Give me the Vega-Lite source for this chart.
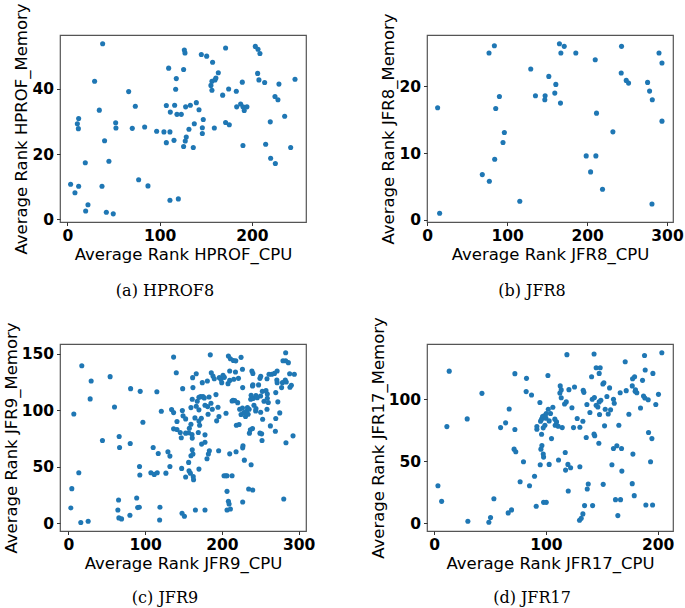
{
 "$schema": "https://vega.github.io/schema/vega-lite/v6.json",
 "background": "white",
 "padding": {"left": 2, "top": 2, "right": 2, "bottom": 2},
 "config": {
  "view": {"stroke": "#555555", "strokeWidth": 1.2},
  "axis": {"domain": false, "grid": false, "ticks": true, "tickSize": 3.5, "tickColor": "#333333", "tickWidth": 1,
   "labelFont": "DejaVu Sans", "labelFontSize": 15.5, "labelFontWeight": "bold", "labelColor": "black", "labelPadding": 3, "labelFlush": false, "labelOverlap": false, "labelBound": false,
   "titleFont": "DejaVu Sans", "titleFontSize": 16.5, "titleFontWeight": "normal", "titleColor": "black", "titlePadding": 2},
  "title": {"font": "DejaVu Serif", "fontSize": 16, "fontWeight": "normal", "color": "black", "anchor": "middle"},
  "circle": {"size": 26, "opacity": 1, "color": "#1f77b4"}
 },
 "datasets": {
  "a": [
   {"x":38.3,"y":53.9},{"x":29.6,"y":42.4},{"x":34.7,"y":33.5},{"x":12.3,"y":30.9},{"x":10.9,"y":29.3},{"x":12,"y":27.8},{"x":40.4,"y":24.1},{"x":19.5,"y":17.3},{"x":45.1,"y":17.8},{"x":3.6,"y":10.7},{"x":8.3,"y":8.1},{"x":12.3,"y":10.1},{"x":37.6,"y":10.1},{"x":22.4,"y":4.4},{"x":19.9,"y":2.5},{"x":42.3,"y":2.1},{"x":49.8,"y":1.6},{"x":66.5,"y":39.2},{"x":52.4,"y":29.6},{"x":52.7,"y":28.0},{"x":70.4,"y":27.9},{"x":73.7,"y":34.7},{"x":83.8,"y":28.3},{"x":77.3,"y":12.1},{"x":87.4,"y":10.2},{"x":96.8,"y":27.0},{"x":104.7,"y":26.8},{"x":111.2,"y":26.8},{"x":107.3,"y":34.9},{"x":109.8,"y":46.4},{"x":111.6,"y":32.9},{"x":107.3,"y":23.5},{"x":111.2,"y":5.8},{"x":120.3,"y":6.2},{"x":115.6,"y":24.2},{"x":116.3,"y":35.0},{"x":117.4,"y":39.9},{"x":118.1,"y":43.2},{"x":118.8,"y":32.2},{"x":123.5,"y":32.2},{"x":126,"y":46.0},{"x":126.8,"y":52.0},{"x":127.5,"y":51.1},{"x":128.2,"y":34.5},{"x":128.9,"y":25.2},{"x":127.8,"y":24.0},{"x":126,"y":22.3},{"x":133.3,"y":35.0},{"x":131.8,"y":27.6},{"x":137.6,"y":29.3},{"x":136.5,"y":22.0},{"x":139.8,"y":35.8},{"x":142.7,"y":33.6},{"x":145.2,"y":50.6},{"x":147.3,"y":30.6},{"x":146.3,"y":28.1},{"x":146.3,"y":26.3},{"x":151,"y":50.1},{"x":157.4,"y":48.2},{"x":156.7,"y":42.4},{"x":155.6,"y":41.1},{"x":156.7,"y":39.6},{"x":160,"y":42.8},{"x":161,"y":43.4},{"x":163.6,"y":45.0},{"x":159.3,"y":28.0},{"x":168.3,"y":38.1},{"x":171.5,"y":52.6},{"x":171.5,"y":29.7},{"x":174.8,"y":40.0},{"x":175.5,"y":29.0},{"x":183.1,"y":39.3},{"x":183.5,"y":34.5},{"x":187.8,"y":35.4},{"x":189.6,"y":42.1},{"x":190.3,"y":34.5},{"x":191.7,"y":33.4},{"x":194.6,"y":34.5},{"x":190.3,"y":22.6},{"x":203.7,"y":53.1},{"x":206.6,"y":52.2},{"x":208.7,"y":50.9},{"x":206.2,"y":44.8},{"x":207.6,"y":42.8},{"x":213.8,"y":42.0},{"x":214.9,"y":23.0},{"x":219.9,"y":29.9},{"x":220.3,"y":18.7},{"x":225.4,"y":17.1},{"x":225,"y":37.7},{"x":228.2,"y":36.7},{"x":229.3,"y":41.5},{"x":235.5,"y":31.6},{"x":242,"y":22.0},{"x":246.7,"y":43.0}
  ],
  "b": [
   {"x":13,"y":16.8},{"x":15.5,"y":1.0},{"x":77.3,"y":25.0},{"x":84,"y":26.1},{"x":90.3,"y":18.5},{"x":85.7,"y":16.7},{"x":96.5,"y":13.1},{"x":94.8,"y":11.6},{"x":84.4,"y":9.1},{"x":68.9,"y":6.8},{"x":77.7,"y":5.8},{"x":115.8,"y":2.8},{"x":129.5,"y":22.6},{"x":135.4,"y":18.6},{"x":147.5,"y":18.6},{"x":147.1,"y":18.0},{"x":152.1,"y":21.5},{"x":160.9,"y":20.3},{"x":159.6,"y":19.0},{"x":166.7,"y":17.5},{"x":165.4,"y":26.4},{"x":171.4,"y":26.0},{"x":167.2,"y":25.0},{"x":185.9,"y":25.0},{"x":210.2,"y":24.0},{"x":198.9,"y":9.6},{"x":211,"y":9.6},{"x":204.4,"y":7.2},{"x":211.8,"y":16.0},{"x":219.3,"y":4.6},{"x":232.3,"y":13.2},{"x":243.1,"y":26.0},{"x":242.7,"y":22.0},{"x":249,"y":20.9},{"x":251.9,"y":20.5},{"x":275.7,"y":20.6},{"x":278.2,"y":19.3},{"x":281.6,"y":18.0},{"x":281.2,"y":2.4},{"x":290,"y":25.0},{"x":293.7,"y":23.5},{"x":293.7,"y":14.8}
  ],
  "c": [
   {"x":17.4,"y":139.4},{"x":29.6,"y":125.8},{"x":28.3,"y":110},{"x":7,"y":96.7},{"x":54.3,"y":129.7},{"x":60,"y":102.9},{"x":81,"y":119.1},{"x":93.5,"y":116.7},{"x":115.2,"y":116.4},{"x":121,"y":99.1},{"x":97,"y":89.4},{"x":44.3,"y":73.2},{"x":66.1,"y":76.7},{"x":66.6,"y":67},{"x":80.5,"y":70.6},{"x":110.4,"y":67},{"x":117,"y":61.7},{"x":13.5,"y":44.6},{"x":92.6,"y":50.2},{"x":93,"y":42.6},{"x":107.4,"y":44.6},{"x":111.8,"y":43.2},{"x":115.7,"y":44.6},{"x":127,"y":44.3},{"x":132.2,"y":50.2},{"x":132.2,"y":59.4},{"x":129.6,"y":63.2},{"x":4.4,"y":30.6},{"x":3.1,"y":13.5},{"x":16.1,"y":0.6},{"x":25.7,"y":1.7},{"x":65.3,"y":20.5},{"x":64.4,"y":11.7},{"x":65.7,"y":4.7},{"x":69.2,"y":3.8},{"x":80.1,"y":7},{"x":88.9,"y":22.3},{"x":90.2,"y":13.8},{"x":92.3,"y":14.1},{"x":119.2,"y":14.1},{"x":118.8,"y":2.9},{"x":148,"y":8.8},{"x":151.1,"y":6.1},{"x":165.4,"y":11.7},{"x":137,"y":147},{"x":140.5,"y":133.2},{"x":148.8,"y":119.1},{"x":134.4,"y":100.6},{"x":137,"y":97.9},{"x":141.4,"y":90},{"x":137,"y":83.5},{"x":141.4,"y":82.9},{"x":148.4,"y":99.7},{"x":149.3,"y":95},{"x":152.7,"y":92.3},{"x":145.7,"y":80.3},{"x":147,"y":75.6},{"x":152.7,"y":79.7},{"x":147.5,"y":48.5},{"x":152.7,"y":40.9},{"x":157.1,"y":46.4},{"x":158.8,"y":44.3},{"x":156.6,"y":53.8},{"x":159.6,"y":59.7},{"x":161.3,"y":65},{"x":162.2,"y":61.2},{"x":162.6,"y":41.2},{"x":163,"y":38.5},{"x":157.5,"y":84.1},{"x":156.6,"y":80},{"x":161,"y":78.5},{"x":161.3,"y":75.3},{"x":159.6,"y":87.6},{"x":159.6,"y":102.3},{"x":161.3,"y":109.7},{"x":162.2,"y":120},{"x":161.8,"y":128.8},{"x":166.5,"y":132.3},{"x":164.8,"y":93.2},{"x":166.5,"y":103.5},{"x":167.8,"y":107.9},{"x":170,"y":111.4},{"x":172.2,"y":112},{"x":170,"y":100.3},{"x":170,"y":90.5},{"x":170.9,"y":86.7},{"x":173.1,"y":92.9},{"x":169.2,"y":80.3},{"x":170,"y":47.9},{"x":174.4,"y":124.4},{"x":175.3,"y":112},{"x":177,"y":110.9},{"x":177.9,"y":104.4},{"x":177.9,"y":78.2},{"x":173.5,"y":70},{"x":177.9,"y":71.7},{"x":177.9,"y":11.7},{"x":181,"y":125.8},{"x":183.2,"y":111.7},{"x":181.4,"y":103.2},{"x":181.9,"y":96.4},{"x":184.8,"y":149},{"x":185.7,"y":106.1},{"x":187.4,"y":100.8},{"x":186.1,"y":133.2},{"x":188.3,"y":130.3},{"x":190,"y":127.9},{"x":192.2,"y":113.8},{"x":194.8,"y":102.6},{"x":183.6,"y":64.1},{"x":182.3,"y":61.2},{"x":180.5,"y":57},{"x":193.1,"y":90.6},{"x":196.1,"y":94.4},{"x":195.7,"y":64.1},{"x":196.6,"y":128.8},{"x":198.7,"y":127.4},{"x":203.1,"y":129.1},{"x":201.4,"y":130.9},{"x":199.7,"y":124.4},{"x":205.3,"y":97.3},{"x":207.9,"y":123.5},{"x":208.4,"y":147.9},{"x":211,"y":145.6},{"x":210.1,"y":134.7},{"x":210.1,"y":126.4},{"x":213.2,"y":108.2},{"x":214.5,"y":108.8},{"x":214.9,"y":144},{"x":217.6,"y":133.8},{"x":218,"y":143.7},{"x":216.6,"y":108.5},{"x":215.4,"y":127.4},{"x":206.6,"y":42},{"x":204.9,"y":42},{"x":202.7,"y":42},{"x":213.2,"y":42},{"x":210.1,"y":61.4},{"x":206.6,"y":28.2},{"x":208.4,"y":19.4},{"x":206.6,"y":11.7},{"x":211,"y":12.6},{"x":209.3,"y":17},{"x":224.9,"y":146.8},{"x":226.7,"y":136.2},{"x":221.5,"y":128.2},{"x":227,"y":120},{"x":220.5,"y":106.7},{"x":218.8,"y":86.7},{"x":222.3,"y":87.3},{"x":218.4,"y":63.2},{"x":227,"y":18.8},{"x":229.2,"y":55.8},{"x":227.4,"y":68.5},{"x":227,"y":66.7},{"x":223.1,"y":100.8},{"x":224.9,"y":96.2},{"x":226.7,"y":102},{"x":228.5,"y":97.9},{"x":230.7,"y":94.4},{"x":232,"y":99.1},{"x":234.1,"y":96.4},{"x":233.2,"y":102.3},{"x":235.4,"y":100.8},{"x":237.5,"y":109.7},{"x":238,"y":113.2},{"x":239.8,"y":121.5},{"x":239,"y":134.7},{"x":240.3,"y":132.6},{"x":237,"y":82.6},{"x":239.8,"y":83.8},{"x":235.8,"y":79.7},{"x":241,"y":110.5},{"x":241.7,"y":104.4},{"x":243.9,"y":99.4},{"x":244.3,"y":101.4},{"x":244.3,"y":112.9},{"x":240.3,"y":122.4},{"x":247.7,"y":122.4},{"x":249.5,"y":128.2},{"x":250.5,"y":130},{"x":246,"y":111.1},{"x":252.6,"y":116.7},{"x":254.8,"y":107.9},{"x":250.4,"y":98.2},{"x":253,"y":92},{"x":249.5,"y":79.7},{"x":251.7,"y":79.1},{"x":252.2,"y":73.2},{"x":234.8,"y":30.3},{"x":240.1,"y":29.4},{"x":238,"y":51.7},{"x":250.4,"y":112.6},{"x":257.4,"y":117.3},{"x":258.7,"y":127.9},{"x":261.3,"y":131.8},{"x":259.1,"y":114.4},{"x":259.1,"y":110.6},{"x":260.4,"y":106.8},{"x":258.7,"y":100.8},{"x":264.9,"y":131.8},{"x":268.4,"y":132.6},{"x":271.9,"y":134.7},{"x":271.5,"y":126.8},{"x":271.9,"y":124.4},{"x":270.1,"y":115.6},{"x":272.8,"y":107.4},{"x":275.3,"y":97.6},{"x":270.1,"y":92.6},{"x":263.1,"y":86.1},{"x":269.6,"y":81.4},{"x":277.7,"y":120},{"x":279.5,"y":143.8},{"x":283,"y":150.9},{"x":283,"y":143.8},{"x":286.5,"y":142.1},{"x":282.5,"y":126.8},{"x":283.8,"y":125},{"x":288.2,"y":132.3},{"x":290.4,"y":122.1},{"x":288.6,"y":120.3},{"x":294.3,"y":131.8},{"x":292.6,"y":77.3},{"x":283.4,"y":71.2},{"x":280.5,"y":21.4},{"x":278.8,"y":124.4}
  ],
  "d": [
   {"x":3.3,"y":30.2},{"x":6.6,"y":17.6},{"x":11.3,"y":77.9},{"x":13.4,"y":122.6},{"x":29.5,"y":84.1},{"x":30.1,"y":1.6},{"x":42.7,"y":104.7},{"x":48.9,"y":0.8},{"x":50.4,"y":4.5},{"x":53.4,"y":19.7},{"x":59.4,"y":77.1},{"x":63.9,"y":80.9},{"x":67.1,"y":92.1},{"x":66.2,"y":8.3},{"x":69.2,"y":10.7},{"x":72.2,"y":120.6},{"x":72.2,"y":75.5},{"x":71.5,"y":59.7},{"x":73,"y":57.6},{"x":76.9,"y":33.4},{"x":79.9,"y":49.5},{"x":82.6,"y":116.8},{"x":82.3,"y":106.1},{"x":87.1,"y":103.4},{"x":85.3,"y":30.2},{"x":89.8,"y":37.8},{"x":91.3,"y":13.7},{"x":91.9,"y":75.8},{"x":91.9,"y":77.9},{"x":94.6,"y":97.3},{"x":95.2,"y":82.3},{"x":96.1,"y":83.9},{"x":96.1,"y":71.7},{"x":96.4,"y":62.6},{"x":95.5,"y":59.7},{"x":94.9,"y":47.1},{"x":97.6,"y":55.7},{"x":97.9,"y":53.3},{"x":97,"y":86},{"x":98.4,"y":86.5},{"x":100,"y":84.7},{"x":99.1,"y":79},{"x":97.6,"y":76.9},{"x":97.9,"y":16.8},{"x":100.3,"y":16.8},{"x":100.3,"y":88.4},{"x":102.1,"y":91.9},{"x":101.8,"y":119.1},{"x":102.9,"y":82.5},{"x":104.1,"y":88.4},{"x":106.2,"y":93.5},{"x":105,"y":68.2},{"x":102.9,"y":47.4},{"x":108,"y":83.9},{"x":109.5,"y":81.7},{"x":108.3,"y":79},{"x":111.3,"y":51},{"x":111,"y":78.2},{"x":112.8,"y":110.7},{"x":113.7,"y":107.5},{"x":112.5,"y":104.9},{"x":113.7,"y":101.1},{"x":114.6,"y":77.1},{"x":116.7,"y":96.1},{"x":117.3,"y":57},{"x":117.6,"y":42.8},{"x":118.8,"y":135.9},{"x":118.2,"y":97.8},{"x":119.7,"y":47.4},{"x":120.6,"y":107.7},{"x":120,"y":26},{"x":122.1,"y":44.7},{"x":123.3,"y":93.1},{"x":124.7,"y":77.1},{"x":125.6,"y":109.8},{"x":128,"y":84.4},{"x":130.4,"y":77.4},{"x":130.4,"y":45.5},{"x":130.1,"y":2.4},{"x":131.6,"y":4},{"x":133.1,"y":7.5},{"x":133.1,"y":82.2},{"x":133.4,"y":107.2},{"x":134,"y":105.5},{"x":134.6,"y":14.2},{"x":136.1,"y":69.1},{"x":137,"y":27.6},{"x":137.9,"y":31.6},{"x":136.7,"y":95.7},{"x":139.4,"y":89.2},{"x":140.9,"y":118.1},{"x":141.5,"y":99.9},{"x":141.8,"y":14.2},{"x":143.1,"y":136.4},{"x":143.4,"y":101.3},{"x":143.1,"y":71.8},{"x":143.7,"y":70.5},{"x":145,"y":125.4},{"x":145,"y":95.1},{"x":148.6,"y":125.4},{"x":147.7,"y":120.8},{"x":147.7,"y":97.8},{"x":146.5,"y":93.7},{"x":149.2,"y":99.1},{"x":148,"y":87.6},{"x":147.4,"y":64.5},{"x":151,"y":112.3},{"x":151.9,"y":113.3},{"x":151.3,"y":31.3},{"x":153.1,"y":91.9},{"x":152.5,"y":78.5},{"x":154.6,"y":102.2},{"x":155.8,"y":88.1},{"x":157,"y":109.1},{"x":157.9,"y":91.4},{"x":159.1,"y":47.1},{"x":160.5,"y":99.9},{"x":161.2,"y":96.7},{"x":160.5,"y":60.2},{"x":162.3,"y":19},{"x":163.5,"y":62.4},{"x":164.4,"y":6.1},{"x":165.3,"y":79},{"x":166.8,"y":19},{"x":166.5,"y":105.2},{"x":167.7,"y":60.2},{"x":168,"y":42},{"x":171,"y":130.2},{"x":171.9,"y":106.9},{"x":174.3,"y":87.9},{"x":177.3,"y":110.7},{"x":177.6,"y":116.5},{"x":179.4,"y":118.1},{"x":177.3,"y":31.9},{"x":177.9,"y":55.7},{"x":179.1,"y":22.2},{"x":180.2,"y":107.5},{"x":181.4,"y":105.2},{"x":179.9,"y":106.3},{"x":184.7,"y":92.9},{"x":186.5,"y":115.2},{"x":187.4,"y":102.6},{"x":188.3,"y":135.2},{"x":188.9,"y":123.5},{"x":188.6,"y":101},{"x":189.5,"y":14.7},{"x":191.6,"y":99.6},{"x":191.9,"y":73.1},{"x":193.7,"y":49.5},{"x":194.9,"y":68.2},{"x":195.5,"y":14.7},{"x":195.8,"y":120.8},{"x":198.4,"y":95.7},{"x":200.8,"y":103.9},{"x":203.8,"y":137.5}
  ]
 },
 "columns": 2,
 "spacing": {"row": 122, "column": 121},
 "bounds": "flush",
 "concat": [
  {"width": 246, "height": 187, "title": {"text": "(a) HPROF8", "orient": "bottom", "dx": -18, "offset": 20},
   "data": {"name": "a"}, "mark": {"type": "circle"},
   "encoding": {
    "x": {"field": "x", "type": "quantitative", "scale": {"domain": [-7.9, 258.6], "nice": false, "zero": false}, "axis": {"title": "Average Rank HPROF_CPU", "values": [0, 100, 200]}},
    "y": {"field": "y", "type": "quantitative", "scale": {"domain": [-0.9, 56.6], "nice": false, "zero": false}, "axis": {"title": "Average Rank HPROF_Memory", "values": [0, 20, 40]}}}},
  {"width": 246, "height": 187, "title": {"text": "(b) JFR8", "orient": "bottom", "dx": -18, "offset": 20},
   "data": {"name": "b"}, "mark": {"type": "circle"},
   "encoding": {
    "x": {"field": "x", "type": "quantitative", "scale": {"domain": [-0.3, 307.5], "nice": false, "zero": false}, "axis": {"title": "Average Rank JFR8_CPU", "values": [0, 100, 200, 300]}},
    "y": {"field": "y", "type": "quantitative", "scale": {"domain": [-0.3, 27.7], "nice": false, "zero": false}, "axis": {"title": "Average Rank JFR8_Memory", "values": [0, 10, 20]}}}},
  {"width": 246, "height": 187, "title": {"text": "(c) JFR9", "orient": "bottom", "dx": -18, "offset": 18},
   "data": {"name": "c"}, "mark": {"type": "circle"},
   "encoding": {
    "x": {"field": "x", "type": "quantitative", "scale": {"domain": [-11, 309.5], "nice": false, "zero": false}, "axis": {"title": "Average Rank JFR9_CPU", "values": [0, 100, 200, 300]}},
    "y": {"field": "y", "type": "quantitative", "scale": {"domain": [-6.9, 158.6], "nice": false, "zero": false}, "axis": {"title": "Average Rank JFR9_Memory", "values": [0, 50, 100, 150]}}}},
  {"width": 246, "height": 187, "title": {"text": "(d) JFR17", "orient": "bottom", "dx": -18, "offset": 18},
   "data": {"name": "d"}, "mark": {"type": "circle"},
   "encoding": {
    "x": {"field": "x", "type": "quantitative", "scale": {"domain": [-6.5, 213.8], "nice": false, "zero": false}, "axis": {"title": "Average Rank JFR17_CPU", "values": [0, 100, 200]}},
    "y": {"field": "y", "type": "quantitative", "scale": {"domain": [-6.3, 144.5], "nice": false, "zero": false}, "axis": {"title": "Average Rank JFR17_Memory", "values": [0, 50, 100]}}}}
 ]
}
